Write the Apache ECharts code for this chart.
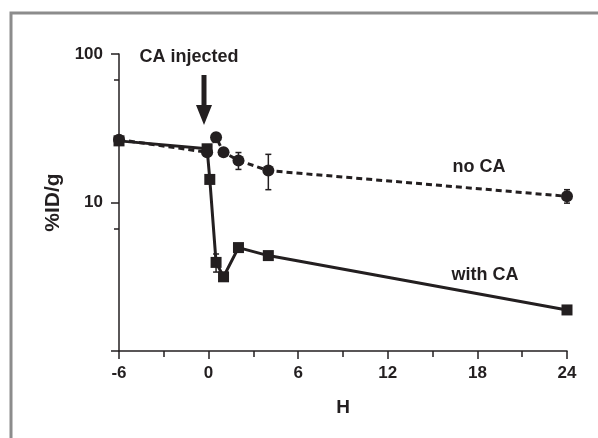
<!DOCTYPE html>
<html>
<head>
<meta charset="utf-8">
<script src="https://cdn.jsdelivr.net/npm/echarts@6/dist/echarts.min.js"></script>
<style>
  html, body { margin: 0; padding: 0; background: #fff; }
  #main { width: 598px; height: 438px; }
</style>
</head>
<body>
<div id="main"></div>
<script>
  // hours relative to CA injection
  const hoursNoCA = [-6, -0.1, 0.5, 1, 2, 4, 24]
  const noCA = [26.5, 21.8, 27.5, 21.8, 19.2, 16.4, 11.0]
  const noCALow = [null, null, 26, null, 16.7, 12.2, 9.9]
  const noCAHigh = [null, null, 29.5, null, 21.7, 21.1, 12.2]

  const hoursCA = [-6, -0.1, 0.08, 0.5, 1, 2, 4, 24]
  const withCA = [26, 23, 14.3, 3.95, 3.16, 4.97, 4.39, 1.89]
  const withCALow = [null, null, null, 3.4, null, null, null, null]
  const withCAHigh = [null, null, null, 4.5, null, null, null, null]

  const xTicks = [-6, 0, 6, 12, 18, 24]
  const yLabels = [10, 100]
  const yMinorTicks = [6.67, 66.7]

  const ink = '#231f20'
  const font = 'Liberation Sans, Arial, sans-serif'

  const pairs = (xs, ys) => xs.map((x, i) => [x, ys[i]])
  const errPairs = (xs, lo, hi) =>
    xs.map((x, i) => [x, lo[i], hi[i]]).filter((d) => d[1] != null)

  function renderErr(params, api) {
    const top = api.coord([api.value(0), api.value(2)])
    const bot = api.coord([api.value(0), api.value(1)])
    const cap = 3
    const style = { stroke: ink, lineWidth: 1.5 }
    return {
      type: 'group',
      children: [
        { type: 'line', shape: { x1: top[0], y1: top[1], x2: bot[0], y2: bot[1] }, style },
        { type: 'line', shape: { x1: top[0] - cap, y1: top[1], x2: top[0] + cap, y2: top[1] }, style },
        { type: 'line', shape: { x1: bot[0] - cap, y1: bot[1], x2: bot[0] + cap, y2: bot[1] }, style },
      ],
    }
  }

  const chart = echarts.init(document.getElementById('main'))
  chart.setOption({
    animation: false,
    backgroundColor: '#fff',
    grid: { left: 119, top: 54, right: 31, bottom: 87 },
    xAxis: {
      type: 'value',
      min: -6,
      max: 24,
      interval: 6,
      name: 'H',
      nameLocation: 'middle',
      nameGap: 47,
      nameTextStyle: { color: ink, fontFamily: font, fontWeight: 'bold', fontSize: 19 },
      axisLine: { onZero: false, lineStyle: { color: ink, width: 1.5 } },
      axisTick: { length: 8, lineStyle: { color: ink, width: 1.5 } },
      minorTick: { show: true, splitNumber: 2, length: 6, lineStyle: { color: ink, width: 1.5 } },
      axisLabel: {
        color: ink, fontFamily: font, fontWeight: 'bold', fontSize: 17, margin: 14,
        formatter: (v) => (xTicks.includes(v) ? String(v) : ''),
      },
      splitLine: { show: false },
    },
    yAxis: [
      {
        type: 'log',
        logBase: 10,
        min: 1,
        max: 100,
        name: '%ID/g',
        nameLocation: 'middle',
        nameGap: 54,
        nameRotate: 90,
        nameTextStyle: { color: ink, fontFamily: font, fontWeight: 'bold', fontSize: 21 },
        axisLine: { show: true, onZero: false, lineStyle: { color: ink, width: 1.5 } },
        axisTick: { show: true, length: 8, lineStyle: { color: ink, width: 1.5 } },
        axisLabel: {
          color: ink, fontFamily: font, fontWeight: 'bold', fontSize: 17, margin: 16,
          formatter: (v) => (yLabels.includes(Math.round(v)) ? String(Math.round(v)) : ''),
        },
        splitLine: { show: false },
      },
      {
        type: 'log',
        logBase: 10,
        min: 1,
        max: 100,
        position: 'left',
        axisLine: { show: false, onZero: false },
        axisLabel: { show: false },
        axisTick: { show: true, length: 5, customValues: yMinorTicks, lineStyle: { color: ink, width: 1.5 } },
        splitLine: { show: false },
      },
    ],
    series: [
      {
        name: 'with CA',
        type: 'line',
        data: pairs(hoursCA, withCA),
        symbol: 'rect',
        symbolSize: 11,
        itemStyle: { color: ink },
        lineStyle: { color: ink, width: 3 },
        z: 3,
      },
      {
        name: 'no CA',
        type: 'line',
        data: pairs(hoursNoCA, noCA),
        symbol: 'circle',
        symbolSize: 12,
        itemStyle: { color: ink },
        lineStyle: { color: ink, width: 3, type: [6, 4] },
        z: 4,
      },
      {
        type: 'custom',
        renderItem: renderErr,
        data: errPairs(hoursNoCA, noCALow, noCAHigh),
        z: 5,
      },
      {
        type: 'custom',
        renderItem: renderErr,
        data: errPairs(hoursCA, withCALow, withCAHigh),
        z: 5,
      },
    ],
    graphic: [
      {
        type: 'rect',
        shape: { x: 11, y: 13, width: 700, height: 600 },
        style: { fill: 'none', stroke: '#8c8c8c', lineWidth: 3 },
        silent: true,
      },
      {
        type: 'text',
        x: 189, y: 57,
        style: { text: 'CA injected', fill: ink, font: 'bold 18px ' + font, align: 'center', verticalAlign: 'middle' },
      },
      {
        type: 'rect',
        shape: { x: 201.5, y: 75, width: 5, height: 32 },
        style: { fill: ink },
      },
      {
        type: 'polygon',
        shape: { points: [[196, 105], [212, 105], [204, 125]] },
        style: { fill: ink },
      },
      {
        type: 'text',
        x: 479, y: 167,
        style: { text: 'no CA', fill: ink, font: 'bold 18px ' + font, align: 'center', verticalAlign: 'middle' },
      },
      {
        type: 'text',
        x: 485, y: 275,
        style: { text: 'with CA', fill: ink, font: 'bold 18px ' + font, align: 'center', verticalAlign: 'middle' },
      },
    ],
  })
</script>
</body>
</html>
